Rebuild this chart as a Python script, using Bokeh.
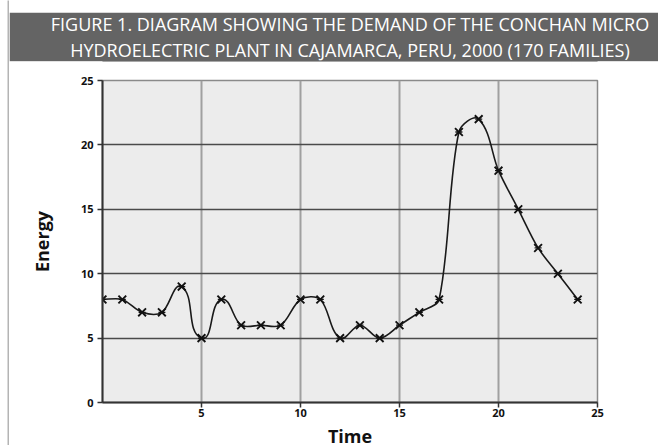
import math
from bokeh.plotting import figure
from bokeh.models import Range1d, FixedTicker, Title
from bokeh.layouts import row, column
from bokeh.embed import file_html
from bokeh.resources import INLINE

# ---- data ----
hours = [0, 1, 2, 3, 4, 5, 6, 7, 8, 9, 10, 11, 12, 13, 14, 15, 16, 17, 18, 19, 20, 21, 22, 23, 24]
energy = [8, 8, 7, 7, 9, 5, 8, 6, 6, 6, 8, 8, 5, 6, 5, 6, 7, 8, 21, 22, 18, 15, 12, 10, 8]
x_ticks = [5, 10, 15, 20, 25]
y_ticks = [0, 5, 10, 15, 20, 25]
title_line1 = "FIGURE 1. DIAGRAM SHOWING THE DEMAND OF THE CONCHAN MICRO"
title_line2 = "HYDROELECTRIC PLANT IN CAJAMARCA, PERU, 2000 (170 FAMILIES)"
x_label = "Time"
y_label = "Energy"

FONT = "Open Sans"
W = 649
H = 445
LIGHT = "#b4b4b4"
DARK = "#646464"


def blank(width, height, color):
    f = figure(width=width, height=height, toolbar_location=None, output_backend="svg",
               min_border=0, x_axis_type=None, y_axis_type=None,
               background_fill_color=color, border_fill_color=color,
               outline_line_color=None)
    f.xgrid.visible = False
    f.ygrid.visible = False
    return f


# ---- left margin, border strip and top line ----
left_pad = blank(7, H, "white")
strip = blank(2, H, LIGHT)
top_pad = blank(W, 10, "white")
topline = blank(W, 2, LIGHT)

# ---- title banner ----
banner = figure(width=W, height=49, toolbar_location=None, output_backend="svg",
                min_border=0, x_axis_type=None, y_axis_type=None,
                background_fill_color=DARK, border_fill_color=DARK,
                outline_line_color=None)
banner.xgrid.visible = False
banner.ygrid.visible = False
banner.title = None
for txt in (title_line2, title_line1):
    banner.add_layout(Title(text=txt, align="center", text_color="white",
                            text_font=FONT, text_font_size="18px", text_font_style="normal",
                            standoff=0, offset=0), "above")

# ---- main chart ----
p = figure(width=None, height=None, frame_width=495, frame_height=322,
           min_border_left=93, min_border_right=61, min_border_top=19, min_border_bottom=40,
           x_range=Range1d(0, 25), y_range=Range1d(0, 25),
           toolbar_location=None, output_backend="svg",
           background_fill_color="#ececec", border_fill_color="white",
           outline_line_color="#8a8a8a", outline_line_width=1.5)

p.xaxis.ticker = FixedTicker(ticks=x_ticks)
p.yaxis.ticker = FixedTicker(ticks=y_ticks)
p.xgrid.ticker = FixedTicker(ticks=x_ticks)
p.ygrid.ticker = FixedTicker(ticks=y_ticks[1:])
p.xgrid.grid_line_color = "#a0a0a0"
p.xgrid.grid_line_width = 2
p.ygrid.grid_line_color = "#4a4a4a"
p.ygrid.grid_line_width = 1.5

for ax in (p.xaxis, p.yaxis):
    ax.axis_line_color = "#333333"
    ax.axis_line_width = 2
    ax.major_tick_line_color = "#333333"
    ax.major_tick_line_width = 1.5
    ax.major_tick_out = 5
    ax.major_tick_in = 0
    ax.minor_tick_line_color = None
    ax.major_label_text_font = FONT
    ax.major_label_text_font_style = "bold"
    ax.major_label_text_font_size = "11px"
    ax.major_label_text_color = "#111111"
    ax.major_label_text_line_height = 1.0
    ax.axis_label_text_font = FONT
    ax.axis_label_text_font_style = "bold"
    ax.axis_label_text_font_size = "18px"
    ax.axis_label_text_color = "#111111"
    ax.axis_label_text_line_height = 1.0

p.xaxis.axis_label = x_label
p.yaxis.axis_label = y_label
p.xaxis.major_label_standoff = 1
p.yaxis.major_label_standoff = 4
p.xaxis.axis_label_standoff = 4
p.yaxis.axis_label_standoff = 24

# smooth curve through the data points (spreadsheet-style smoothing), drawn as Bezier segments;
# tangents are evaluated in pixel space so the smoothing looks the same on screen
sx = 495 / 25.0
sy = 322 / 25.0
n = len(hours)
k = 0.3


def tangent(i):
    a = max(i - 1, 0)
    b = min(i + 1, n - 1)
    dx = (hours[b] - hours[a]) * sx
    dy = (energy[b] - energy[a]) * sy
    L = math.hypot(dx, dy) or 1.0
    return dx / L, dy / L


x0, y0, x1, y1, cx0, cy0, cx1, cy1 = [], [], [], [], [], [], [], []
for i in range(n - 1):
    seg = math.hypot((hours[i + 1] - hours[i]) * sx, (energy[i + 1] - energy[i]) * sy)
    t0 = tangent(i)
    t1 = tangent(i + 1)
    x0.append(hours[i]); y0.append(energy[i])
    x1.append(hours[i + 1]); y1.append(energy[i + 1])
    cx0.append(hours[i] + t0[0] * seg * k / sx)
    cy0.append(energy[i] + t0[1] * seg * k / sy)
    cx1.append(hours[i + 1] - t1[0] * seg * k / sx)
    cy1.append(energy[i + 1] - t1[1] * seg * k / sy)

p.bezier(x0=x0, y0=y0, x1=x1, y1=y1, cx0=cx0, cy0=cy0, cx1=cx1, cy1=cy1,
         line_color="#1a1a1a", line_width=1.6)

p.scatter(hours, energy, marker="x", size=11, line_color="#111111", line_width=1.9)
p.scatter(hours, energy, marker="dash", size=7, line_color="#111111", line_width=1.3)

layout = row(left_pad, strip, column(top_pad, topline, banner, p, spacing=0), spacing=0)

open("out.html", "w").write(file_html(layout, INLINE))
